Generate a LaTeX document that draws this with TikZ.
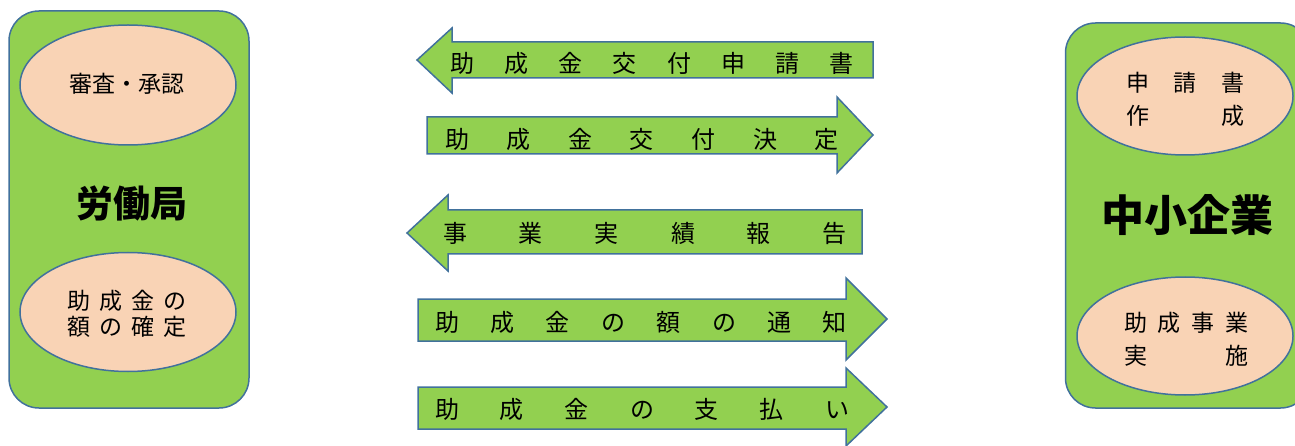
\documentclass[tikz,border=0pt]{standalone}
\usepackage{fontspec}
\newfontfamily\cjk{Noto Sans CJK JP}
\usetikzlibrary{shapes.geometric}
\definecolor{grn}{HTML}{92D050}
\definecolor{edge}{HTML}{41719C}
\definecolor{peach}{HTML}{F9D3B5}
\tikzset{
  panel/.style={draw=edge,line width=1.5pt,fill=grn,rounded corners=30pt},
  oval/.style={ellipse,draw=edge,line width=1.5pt,fill=peach,inner sep=0pt},
  blockarrow/.style={draw=edge,line width=1.5pt,fill=grn},
  atext/.style={inner sep=0pt,font=\cjk\fontsize{24}{28}\selectfont},
  otext/.style={inner sep=0pt,align=center,font=\cjk\fontsize{23}{26}\selectfont},
  wtext/.style={inner sep=0pt,align=center,font=\cjk\fontsize{23}{33}\selectfont},
  btext/.style={inner sep=0pt,font=\cjk\bfseries\fontsize{37}{42}\selectfont}
}
\newcommand{\spreadbox}[2]{\hbox to #1pt{#2}}
\begin{document}
\begin{tikzpicture}[x=1pt,y=-1pt]
\useasboundingbox (0,0) rectangle (1295,446);
\clip (0,0) rectangle (1295,446);
% left panel
\node[panel,minimum width=240pt,minimum height=397pt] (lab) at (129,209.5) {};
\node[oval,minimum width=216pt,minimum height=120pt] (e1) at (128,85) {};
\node[otext] (t1) at (127,84) {審査・承認};
\node[btext] (lb) at (132,203) {労働局};
\node[oval,minimum width=216pt,minimum height=119pt] (e2) at (128,312) {};
\node[otext] (t2) at (127,314) {\spreadbox{120}{助\hfill 成\hfill 金\hfill の}\\\spreadbox{120}{額\hfill の\hfill 確\hfill 定}};
% right panel
\node[panel,minimum width=245pt,minimum height=385pt] (sme) at (1188,215.5) {};
\node[oval,minimum width=216pt,minimum height=118pt] (e3) at (1185,96) {};
\node[wtext] (t3) at (1185,99) {\spreadbox{118}{申\hfill 請\hfill 書}\\\spreadbox{118}{作\hfill 成}};
\node[btext,font=\cjk\bfseries\fontsize{43}{48}\selectfont] (rb) at (1187,215) {中小企業};
\node[oval,minimum width=216pt,minimum height=118pt] (e4) at (1185,336) {};
\node[wtext] (t4) at (1186,339) {\spreadbox{124}{助\hfill 成\hfill 事\hfill 業}\\\spreadbox{124}{実\hfill 施}};
% arrows
\draw[blockarrow] (417,60) -- (452,28) -- (452,42) -- (873,42) -- (873,78) -- (452,78) -- (452,93) -- cycle;
\node[atext] (a1) at (652,63) {\spreadbox{404}{助\hfill 成\hfill 金\hfill 交\hfill 付\hfill 申\hfill 請\hfill 書}};
\draw[blockarrow] (427,117) -- (837,117) -- (837,97) -- (873,135) -- (837,173) -- (837,154) -- (427,154) -- cycle;
\node[atext] (a2) at (642,139) {\spreadbox{394}{助\hfill 成\hfill 金\hfill 交\hfill 付\hfill 決\hfill 定}};
\draw[blockarrow] (407,233) -- (448,195) -- (448,210) -- (862,210) -- (862,254) -- (448,254) -- (448,271) -- cycle;
\node[atext] (a3) at (645,233) {\spreadbox{404}{事\hfill 業\hfill 実\hfill 績\hfill 報\hfill 告}};
\draw[blockarrow] (418,299) -- (846,299) -- (846,278) -- (887,319) -- (846,360) -- (846,341) -- (418,341) -- cycle;
\node[atext] (a4) at (641,322) {\spreadbox{412}{助\hfill 成\hfill 金\hfill の\hfill 額\hfill の\hfill 通\hfill 知}};
\draw[blockarrow] (418,387) -- (846,387) -- (846,368) -- (887,407) -- (846,446) -- (846,429) -- (418,429) -- cycle;
\node[atext] (a5) at (642,409) {\spreadbox{414}{助\hfill 成\hfill 金\hfill の\hfill 支\hfill 払\hfill い}};
\end{tikzpicture}
\end{document}
